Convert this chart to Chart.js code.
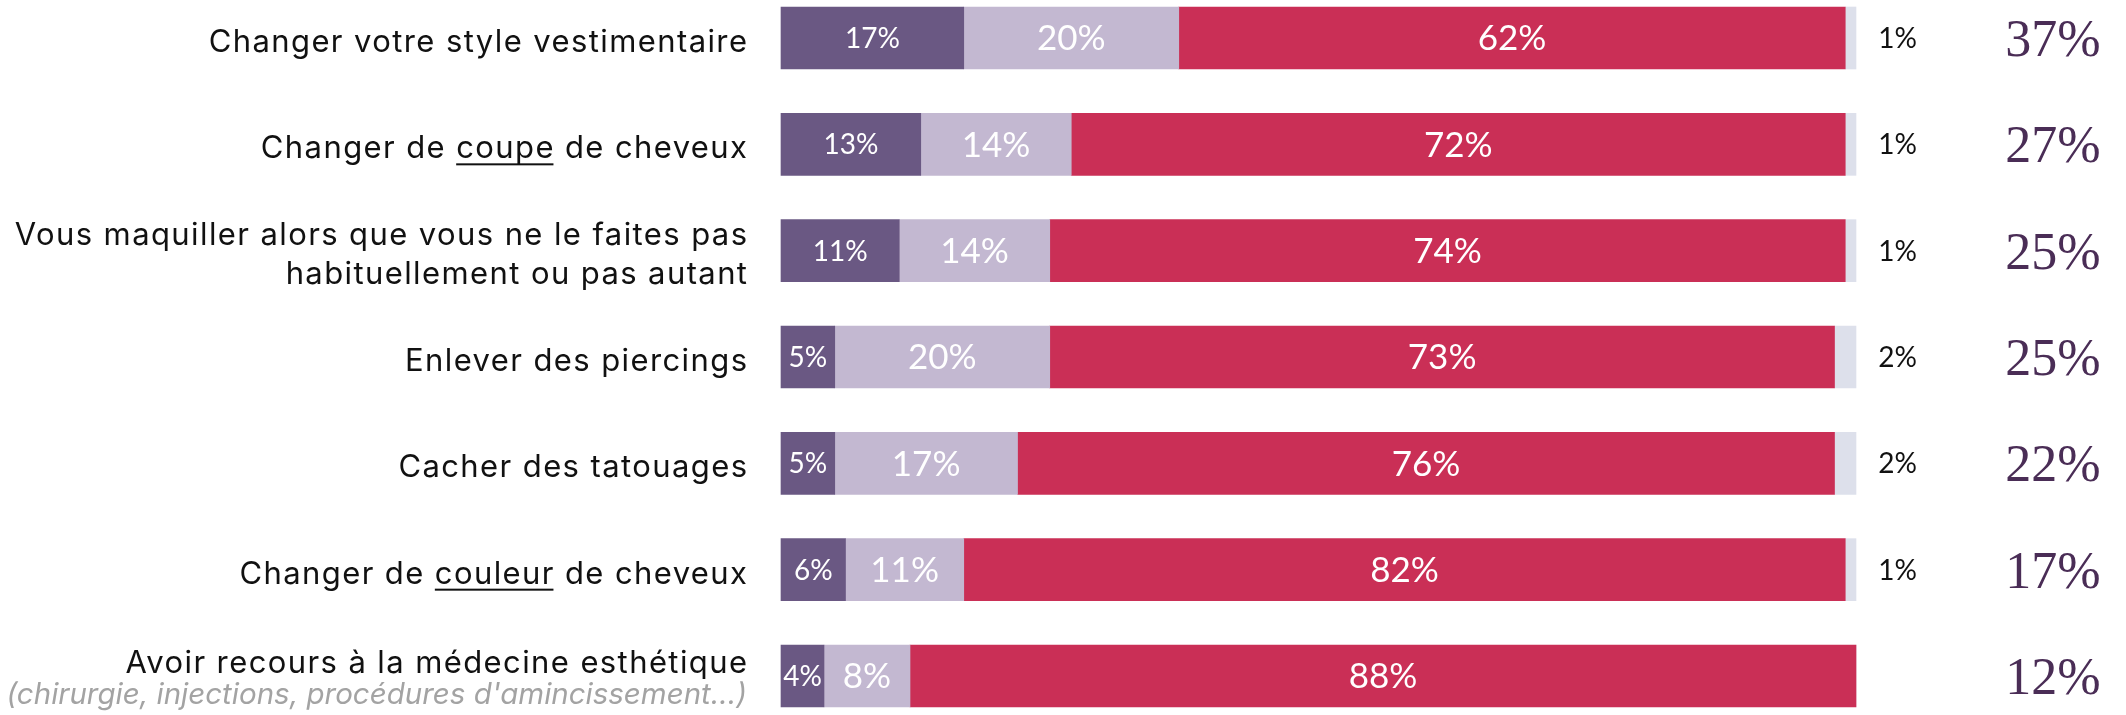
<!DOCTYPE html>
<html><head><meta charset="utf-8">
<style>html,body{margin:0;padding:0;background:#fff;overflow:hidden}canvas{display:block}</style>
<script src="https://cdn.jsdelivr.net/npm/chart.js@4.4.1/dist/chart.umd.min.js"></script>
</head><body><canvas id="c" width="2126" height="715"></canvas>
<script>
const categories = [
  ["Changer votre style vestimentaire"],
  ["Changer de coupe de cheveux"],
  ["Vous maquiller alors que vous ne le faites pas", "habituellement ou pas autant"],
  ["Enlever des piercings"],
  ["Cacher des tatouages"],
  ["Changer de couleur de cheveux"],
  ["Avoir recours à la médecine esthétique"]
];
const underlined = ["", "coupe", "", "", "", "couleur", ""];
const notes = ["", "", "", "", "", "", "(chirurgie, injections, procédures d'amincissement…)"];
const souvent = [17, 13, 11, 5, 5, 6, 4];
const parfois = [20, 14, 14, 20, 17, 11, 8];
const jamais  = [62, 72, 74, 73, 76, 82, 88];
const nsp     = [1, 1, 1, 2, 2, 1, 0];
const totals  = [37, 27, 25, 25, 22, 17, 12];

const LABEL_FONT = '"Inter", "Noto Sans", sans-serif';
const VALUE_FONT = '"Lato", "Noto Sans", sans-serif';

const drawPlugin = {
  id: 'drawPlugin',
  afterDatasetsDraw(chart) {
    const ctx = chart.ctx, ys = chart.scales.y;
    ctx.save();
    const rightX = 747;
    categories.forEach((lines, i) => {
      const yc = ys.getPixelForValue(i);
      ctx.textAlign = 'left';
      ctx.textBaseline = 'alphabetic';
      let baselines;
      if (lines.length === 1 && !notes[i]) baselines = [yc + 14];
      else if (lines.length === 2) baselines = [yc - 6, yc + 33];
      else baselines = [yc - 3, yc + 28];
      lines.forEach((line, k) => {
        ctx.font = '400 31px ' + LABEL_FONT;
        ctx.letterSpacing = '1.4px';
        ctx.fillStyle = '#111111';
        const w = ctx.measureText(line).width - 1.4;
        const x0 = rightX - w;
        ctx.fillText(line, x0, baselines[k]);
        const u = underlined[i];
        if (u && line.indexOf(u) >= 0) {
          const pre = line.slice(0, line.indexOf(u));
          const ux = x0 + ctx.measureText(pre).width;
          const uw = ctx.measureText(u).width - 1.4;
          ctx.fillRect(ux, baselines[k] + 5, uw, 2);
        }
      });
      if (notes[i]) {
        ctx.font = 'italic 400 29.5px ' + LABEL_FONT;
        ctx.letterSpacing = '0px';
        ctx.fillStyle = '#a3a3a3';
        const w = ctx.measureText(notes[i]).width;
        ctx.fillText(notes[i], rightX - w, baselines[1]);
      }
    });
    ctx.letterSpacing = '0px';
    chart.data.datasets.forEach((ds, di) => {
      const meta = chart.getDatasetMeta(di);
      meta.data.forEach((bar, i) => {
        const v = ds.data[i];
        if (!v) return;
        const txt = v + '%';
        ctx.textBaseline = 'middle';
        if (di === 3) {
          ctx.font = '400 28px ' + VALUE_FONT;
          ctx.fillStyle = '#111111';
          ctx.textAlign = 'right';
          ctx.fillText(txt, 1917, bar.y + 1);
        } else {
          ctx.font = (di === 0 ? '400 28px ' : '400 35px ') + VALUE_FONT;
          ctx.fillStyle = '#ffffff';
          ctx.textAlign = 'center';
          ctx.fillText(txt, (bar.x + bar.base) / 2, bar.y + 1);
        }
      });
    });
    ctx.font = '400 52px "Liberation Serif", "DejaVu Serif", serif';
    ctx.fillStyle = '#4a2d56';
    ctx.textAlign = 'center';
    ctx.textBaseline = 'alphabetic';
    totals.forEach((t, i) => {
      const yc = ys.getPixelForValue(i);
      ctx.fillText(t + '%', 2053, yc + 18);
    });
    ctx.restore();
  }
};

new Chart(document.getElementById('c'), {
  type: 'bar',
  data: {
    labels: categories.map(c => c.join(' ')),
    datasets: [
      { label: 'Oui, souvent', data: souvent, backgroundColor: '#6a5883' },
      { label: 'Oui, parfois', data: parfois, backgroundColor: '#c3b8d1' },
      { label: 'Non, jamais', data: jamais, backgroundColor: '#ca2f56' },
      { label: 'Ne se prononce pas', data: nsp, backgroundColor: '#dde0eb' }
    ]
  },
  options: {
    indexAxis: 'y',
    responsive: false,
    animation: false,
    devicePixelRatio: 1,
    layout: { padding: { left: 781, right: 270, top: 38, bottom: 39 } },
    datasets: { bar: { barThickness: 62, borderWidth: 0, clip: false } },
    plugins: { legend: { display: false }, tooltip: { enabled: false } },
    scales: {
      x: { stacked: true, min: 0, max: 100, display: false },
      y: { stacked: true, offset: false, display: false }
    }
  },
  plugins: [drawPlugin]
});
</script>
</body></html>
